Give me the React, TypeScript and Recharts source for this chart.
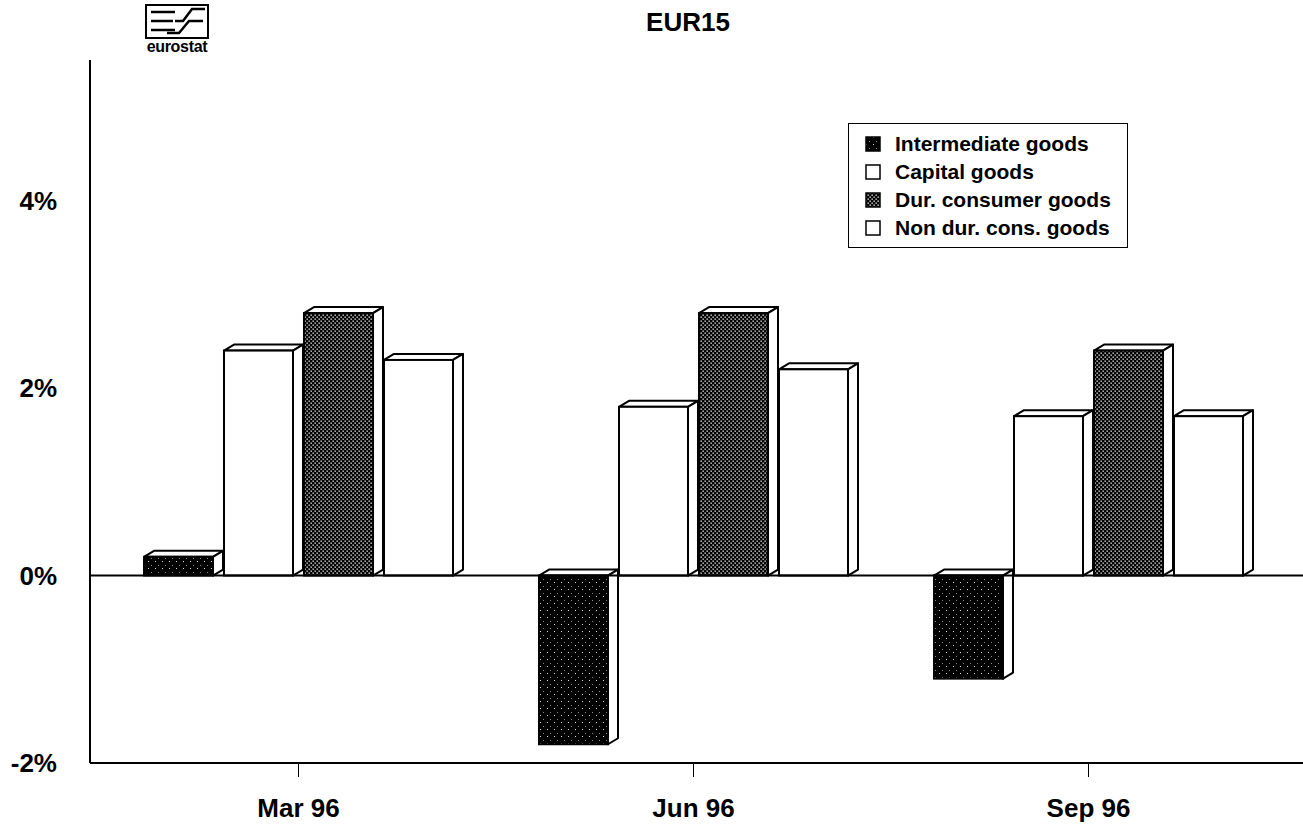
import React from 'react';
import { BarChart, Bar, XAxis, YAxis, ReferenceLine, Legend } from 'recharts';

const months = ['Mar 96', 'Jun 96', 'Sep 96'];
const intermediate = [0.2, -1.8, -1.1];
const capital = [2.4, 1.8, 1.7];
const durable = [2.8, 2.8, 2.4];
const nonDurable = [2.3, 2.2, 1.7];
const yTicks = [-2, 0, 2, 4];

const seriesNames = [
  'Intermediate goods',
  'Capital goods',
  'Dur. consumer goods',
  'Non dur. cons. goods',
];
const seriesKeys = ['intermediate', 'capital', 'durable', 'nonDurable'];
const seriesFills = ['url(#patDark)', '#ffffff', 'url(#patDots)', '#ffffff'];

const rows = months.map((month, i) => ({
  month,
  intermediate: intermediate[i],
  capital: capital[i],
  durable: durable[i],
  nonDurable: nonDurable[i],
}));

const FONT = '"Liberation Sans", Arial, Helvetica, sans-serif';

// front face + top + side, like the old 3D bar look
const Bar3D = (props: any) => {
  const { x, y, width, height, fill } = props;
  if (x == null || y == null) return null;
  const top = Math.min(y, y + height);
  const h = Math.abs(height);
  const bottom = top + h;
  const dx = 10;
  const dy = 6;
  return (
    <g>
      <path
        d={`M${x},${top} L${x + dx},${top - dy} L${x + width + dx},${top - dy} L${x + width},${top} Z`}
        fill="#fff"
        stroke="#000"
        strokeWidth={2}
        strokeLinejoin="round"
      />
      <path
        d={`M${x + width},${top} L${x + width + dx},${top - dy} L${x + width + dx},${bottom - dy} L${x + width},${bottom} Z`}
        fill="#fff"
        stroke="#000"
        strokeWidth={2}
        strokeLinejoin="round"
      />
      <rect x={x} y={top} width={width} height={h} fill={fill} stroke="#000" strokeWidth={2} />
    </g>
  );
};

const LegendBox = () => (
  <div
    style={{
      border: '1px solid #000',
      width: 280,
      height: 125,
      boxSizing: 'border-box',
      paddingTop: 6,
      background: '#fff',
      fontFamily: FONT,
      fontWeight: 700,
      fontSize: 21,
      color: '#000',
    }}
  >
    {seriesNames.map((name, i) => (
      <div key={name} style={{ display: 'flex', alignItems: 'center', height: 28 }}>
        <svg width={16} height={16} style={{ marginLeft: 16, marginRight: 14 }}>
          <rect x={1} y={1} width={14} height={14} fill={seriesFills[i]} stroke="#000" strokeWidth={1.5} />
        </svg>
        <span>{name}</span>
      </div>
    ))}
  </div>
);

const Logo = () => (
  <div style={{ position: 'absolute', left: 145, top: 4, width: 64, textAlign: 'center' }}>
    <svg width={64} height={35}>
      <rect x={1} y={1} width={62} height={33} fill="#fff" stroke="#000" strokeWidth={2} />
      <path d="M6,8 H30 M6,17 H28 M6,26 H30" stroke="#000" strokeWidth={2.5} fill="none" />
      <path d="M30,17 H38 L47,5 H60 M22,29 H34 L44,17 H58" stroke="#000" strokeWidth={2.5} fill="none" />
    </svg>
    <div
      style={{
        fontFamily: FONT,
        fontWeight: 700,
        fontSize: 16,
        lineHeight: '13px',
        marginTop: -3,
        letterSpacing: -0.3,
      }}
    >
      eurostat
    </div>
  </div>
);

export default function App() {
  return (
    <div
      style={{
        position: 'absolute',
        left: 0,
        top: 0,
        width: 1303,
        height: 825,
        background: '#fff',
        fontFamily: FONT,
      }}
    >
      <svg width={0} height={0} style={{ position: 'absolute' }}>
        <defs>
          <pattern id="patDark" width={7} height={7} patternUnits="userSpaceOnUse">
            <rect width={7} height={7} fill="#000" />
            <rect x={1} y={1} width={1} height={1} fill="#ddd" />
            <rect x={4} y={5} width={1} height={1} fill="#888" />
          </pattern>
          <pattern id="patDots" width={4} height={4} patternUnits="userSpaceOnUse">
            <rect width={4} height={4} fill="#000" />
            <rect x={0.5} y={0.5} width={1.3} height={1.3} fill="#fff" />
            <rect x={2.5} y={2.5} width={1.3} height={1.3} fill="#fff" />
          </pattern>
        </defs>
      </svg>
      <Logo />
      <div
        style={{
          position: 'absolute',
          left: 0,
          width: 1376,
          top: 7,
          textAlign: 'center',
          fontWeight: 700,
          fontSize: 26,
        }}
      >
        EUR15
      </div>
      <BarChart
        width={1303}
        height={825}
        data={rows}
        margin={{ top: 60, right: 0, left: 0, bottom: 0 }}
        barSize={69}
        barGap={11}
      >
        <XAxis
          dataKey="month"
          height={62}
          padding={{ left: 11, right: 17 }}
          axisLine={{ stroke: '#000', strokeWidth: 2 }}
          tickLine={{ stroke: '#000', strokeWidth: 1 }}
          tickSize={14}
          tickMargin={22}
          tick={{ fill: '#000', fontSize: 26, fontWeight: 700, fontFamily: FONT }}
        />
        <YAxis
          width={90}
          domain={[-2, 5.5]}
          ticks={yTicks}
          allowDataOverflow
          tickFormatter={(v: number) => `${v}%`}
          axisLine={{ stroke: '#000', strokeWidth: 2 }}
          tickLine={false}
          tickSize={6}
          tickMargin={27}
          tick={{ fill: '#000', fontSize: 26, fontWeight: 700, fontFamily: FONT }}
        />
        <ReferenceLine y={0} stroke="#000" strokeWidth={2} />
        {seriesKeys.map((key, i) => (
          <Bar
            key={key}
            dataKey={key}
            name={seriesNames[i]}
            fill={seriesFills[i]}
            shape={<Bar3D />}
            isAnimationActive={false}
          />
        ))}
        <Legend
          layout="vertical"
          align="center"
          verticalAlign="middle"
          content={<LegendBox />}
          wrapperStyle={{ left: 848, top: 123, width: 280, height: 125 }}
        />
      </BarChart>
    </div>
  );
}
